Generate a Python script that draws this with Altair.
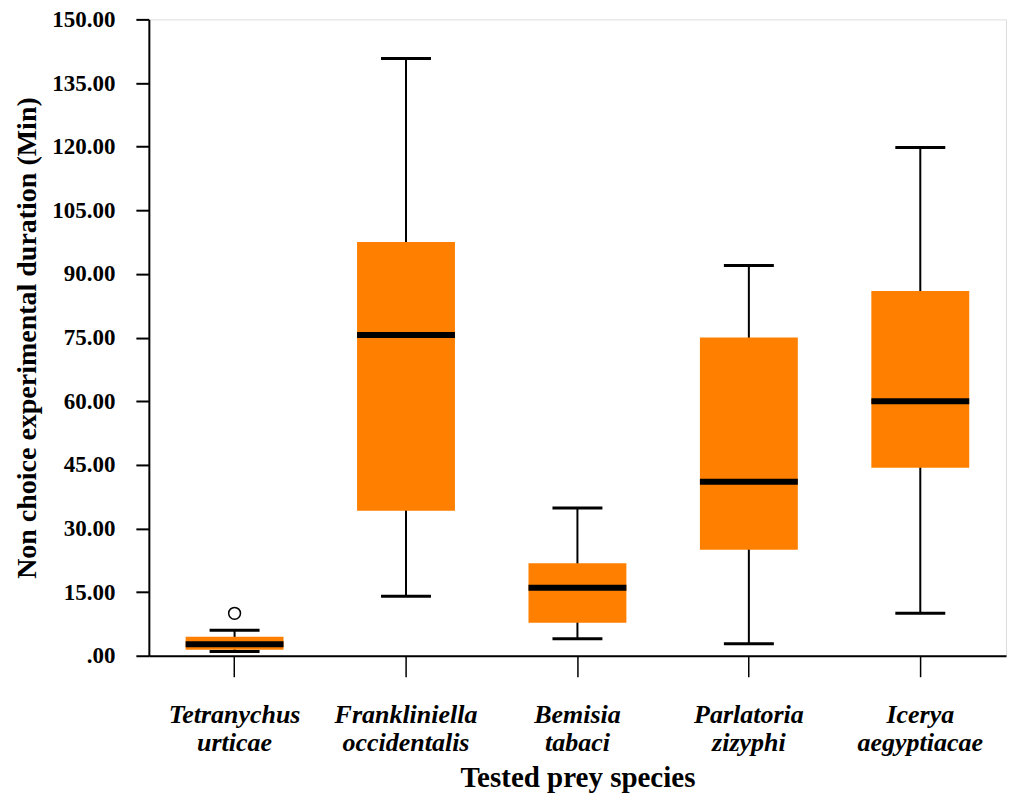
import altair as alt
import pandas as pd

species = ["Tetranychus urticae", "Frankliniella occidentalis", "Bemisia tabaci",
           "Parlatoria zizyphi", "Icerya aegyptiacae"]
lower = [1.0, 14.0, 4.0, 2.8, 10.0]
q1 = [1.4, 34.2, 7.8, 25.0, 44.3]
median = [2.7, 75.6, 16.0, 41.0, 60.0]
q3 = [4.5, 97.5, 21.8, 75.0, 86.0]
upper = [6.0, 140.8, 34.8, 92.0, 119.8]

outlier_species = ["Tetranychus urticae"]
outlier_values = [10.0]

df = pd.DataFrame({"species": species, "lower": lower, "q1": q1,
                   "median": median, "q3": q3, "upper": upper})
df_out = pd.DataFrame({"species": outlier_species, "value": outlier_values})

FONT = "Liberation Serif"

x_enc = alt.X("species:N", sort=species, title="Tested prey species",
              scale=alt.Scale(paddingInner=0, paddingOuter=0),
              axis=alt.Axis(labelAngle=0, labelFont=FONT, labelFontSize=26,
                            labelFontWeight="bold", labelFontStyle="italic",
                            labelColor="black", labelExpr="split(datum.label, ' ')",
                            labelLineHeight=28, labelPadding=25,
                            tickSize=21, tickColor="black", tickWidth=1.5,
                            domainColor="black", domainWidth=2,
                            titleFont=FONT, titleFontSize=29, titleFontWeight="bold",
                            titleColor="black", titlePadding=8))

y_scale = alt.Scale(domain=[0, 150], nice=False, zero=True)
tick_vals = [i * 7.5 for i in range(21)]
y_axis = alt.Axis(values=tick_vals, grid=False,
                  labelExpr="datum.value % 15 == 0 ? (datum.value == 0 ? '.00' : format(datum.value, '.2f')) : ''",
                  labelFont=FONT, labelFontSize=23, labelFontWeight="bold", labelColor="black",
                  labelPadding=21,
                  tickSize={"condition": {"test": "datum.value % 15 == 0", "value": 13}, "value": 6},
                  tickColor="black", tickWidth=2,
                  domainColor="black", domainWidth=2,
                  title="Non choice experimental duration (Min)",
                  titleFont=FONT, titleFontSize=28, titleFontWeight="bold", titleColor="black",
                  titlePadding=10)

base = alt.Chart(df)

whisker = base.mark_rule(color="black", strokeWidth=2, opacity=1).encode(
    x=x_enc,
    y=alt.Y("lower:Q", scale=y_scale, axis=y_axis),
    y2="upper:Q")

box = base.mark_bar(color="#FF8000", size=98, opacity=1).encode(
    x=alt.X("species:N", sort=species),
    y="q1:Q", y2="q3:Q")

med = base.mark_tick(color="black", size=98, thickness=6, opacity=1).encode(
    x=alt.X("species:N", sort=species), y="median:Q")

cap_lo = base.mark_tick(color="black", size=50, thickness=3, opacity=1).encode(
    x=alt.X("species:N", sort=species), y="lower:Q")
cap_hi = base.mark_tick(color="black", size=50, thickness=3, opacity=1).encode(
    x=alt.X("species:N", sort=species), y="upper:Q")

out = alt.Chart(df_out).mark_point(shape="circle", size=140, filled=False,
                                   color="black", fill="white", strokeWidth=1.5, opacity=1).encode(
    x=alt.X("species:N", sort=species), y="value:Q")

chart = alt.layer(whisker, box, med, cap_lo, cap_hi, out).properties(
    width=858, height=637,
    padding={"top": 0, "left": 5, "right": 5, "bottom": 0}
).configure_view(stroke=None).configure(background="white")

chart.save("out.html", embed_options={"renderer": "svg", "actions": False})
